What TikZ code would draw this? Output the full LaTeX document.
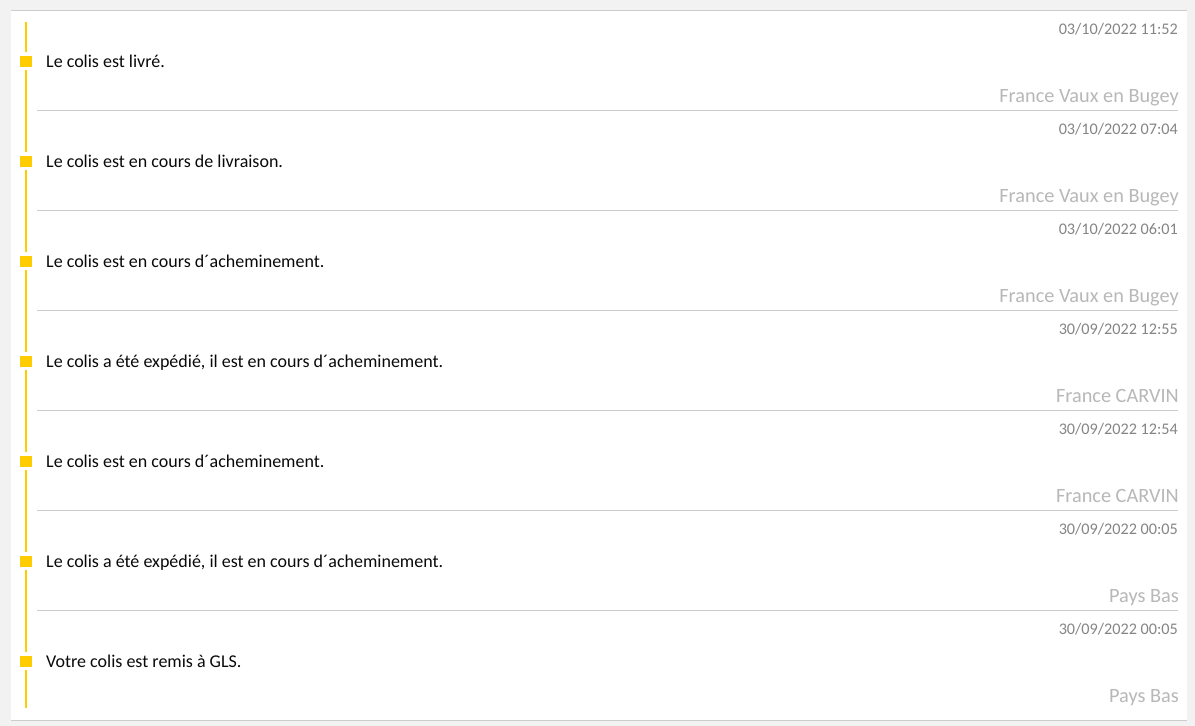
\documentclass[tikz,border=0pt]{standalone}
\usepackage{fontspec}
\setmainfont{Carlito}
\definecolor{bg}{HTML}{F2F2F2}
\definecolor{gls}{HTML}{FFCC00}
\definecolor{sepc}{HTML}{CCCCCC}
\definecolor{datec}{HTML}{858585}
\definecolor{locc}{HTML}{B8B8B8}
\definecolor{msgc}{HTML}{0A0A0A}
\tikzset{
  msgtext/.style={anchor=base west, inner sep=0pt, text=msgc, font=\fontsize{18}{20}\selectfont},
  datetext/.style={anchor=base east, inner sep=0pt, text=datec, font=\fontsize{16.2}{18}\selectfont},
  loctext/.style={anchor=base east, inner sep=0pt, text=locc, font=\fontsize{20.3}{22}\selectfont},
  bullet/.style={fill=gls, minimum size=11.5pt, inner sep=0pt, draw=none},
  sepline/.style={draw=sepc, line width=1pt},
  railline/.style={draw=gls, line width=2.6pt}
}
\begin{document}
\begin{tikzpicture}[x=1pt,y=-1pt]
\useasboundingbox (0,0) rectangle (1195,726);
\fill[bg] (0,0) rectangle (1195,726);
\fill[white] (11,10) rectangle (1187,720);
\coordinate (pTL) at (11,10.5);
\coordinate (pTR) at (1187,10.5);
\coordinate (pBL) at (11,720);
\coordinate (pBR) at (1187,720);
\draw[sepline] (pTL) -- (pTR);
\draw[sepline] (pBL) -- (pBR);
\foreach \i/\d/\m/\l in {
 0/{03/10/2022 11:52}/{Le colis est livré.}/{France Vaux en Bugey},
 1/{03/10/2022 07:04}/{Le colis est en cours de livraison.}/{France Vaux en Bugey},
 2/{03/10/2022 06:01}/{Le colis est en cours d´acheminement.}/{France Vaux en Bugey},
 3/{30/09/2022 12:55}/{Le colis a été expédié, il est en cours d´acheminement.}/{France CARVIN},
 4/{30/09/2022 12:54}/{Le colis est en cours d´acheminement.}/{France CARVIN},
 5/{30/09/2022 00:05}/{Le colis a été expédié, il est en cours d´acheminement.}/{Pays Bas},
 6/{30/09/2022 00:05}/{Votre colis est remis à GLS.}/{Pays Bas}}
{
  \pgfmathsetmacro{\yo}{10+100*\i}
  \node[datetext] (date\i) at (1178,\yo+24.5) {\d};
  \node[bullet] (sq\i) at (26,\yo+51.5) {};
  \node[msgtext] (msg\i) at (46,\yo+57) {\m};
  \node[loctext] (loc\i) at (1179,\yo+92) {\l};
  \coordinate (rt\i) at (26,\yo+41.5);
  \coordinate (rb\i) at (26,\yo+59.5);
}
\foreach \i in {0,...,5}{
  \pgfmathsetmacro{\ys}{110+100*\i}
  \coordinate (sl\i) at (37,\ys);
  \coordinate (sr\i) at (1178,\ys);
  \draw[sepline] (sl\i) -- (sr\i);
}
\coordinate (railtop) at (26,22);
\coordinate (railbot) at (26,708);
\draw[railline] (railtop) -- (rt0);
\foreach \i [evaluate=\i as \j using int(\i+1)] in {0,...,5}{
  \draw[railline] (rb\i) -- (rt\j);
}
\draw[railline] (rb6) -- (railbot);
\end{tikzpicture}
\end{document}
